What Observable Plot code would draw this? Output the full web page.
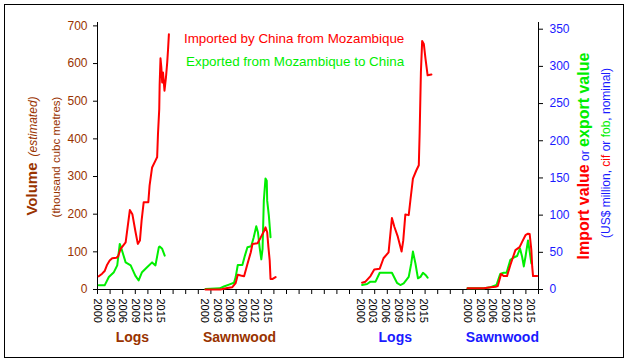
<!DOCTYPE html>
<html>
<head>
<meta charset="utf-8">
<script src="https://cdn.jsdelivr.net/npm/d3@7"></script>
<script src="https://cdn.jsdelivr.net/npm/@observablehq/plot@0.6"></script>
<style>
html, body { margin: 0; padding: 0; background: #fff; }
#chart { position: relative; width: 628px; height: 362px; }
</style>
</head>
<body>
<div id="chart"></div>
<script>
// ---------- data ----------
const yearTicks = [2000, 2003, 2006, 2009, 2012, 2015];
const volumeTicks = [0, 100, 200, 300, 400, 500, 600, 700];
const valueTicks = [0, 50, 100, 150, 200, 250, 300, 350];
const panelNames = ["Logs", "Sawnwood", "Logs", "Sawnwood"];

// Volume, thousand cubic metres [year, value]
const logsVolumeImported = [[2000.3,35],[2001.1,42],[2001.7,49],[2002.3,66],[2002.9,77],[2003.5,83],[2004.5,84],[2004.9,88],[2005.5,108],[2006.7,125],[2007.7,211],[2008.3,200],[2009.0,156],[2009.6,121],[2010.1,130],[2010.5,183],[2011.0,232],[2012.1,232],[2012.4,276],[2013.0,324],[2014.0,347],[2014.2,351],[2014.4,413],[2014.7,479],[2014.8,545],[2015.0,614],[2015.2,590],[2015.4,550],[2015.6,576],[2015.95,528],[2016.3,563],[2016.6,603],[2016.8,638],[2017.0,678]];
const logsVolumeExported = [[2000.3,11],[2001.7,11],[2002.7,33],[2003.9,46],[2004.7,64],[2005.3,121],[2005.6,112],[2006.7,72],[2007.9,64],[2009.0,37],[2009.8,24],[2010.6,46],[2011.8,59],[2013.0,72],[2013.8,64],[2014.6,112],[2014.8,114],[2015.4,108],[2016.0,90]];
const sawnwoodVolumeImported = [[2000.2,0],[2003.8,0],[2005.4,4],[2006.6,6],[2007.4,17],[2007.9,39],[2008.6,37],[2009.4,35],[2010.2,68],[2011.0,99],[2011.4,121],[2012.6,123],[2013.3,137],[2014.1,154],[2014.5,165],[2014.9,152],[2015.2,112],[2015.5,77],[2015.7,28],[2016.2,28],[2016.9,33]];
const sawnwoodVolumeExported = [[2000.2,1],[2003.6,3],[2004.6,8],[2005.8,13],[2007.0,18],[2007.4,33],[2007.9,65],[2009.0,65],[2009.6,90],[2010.2,112],[2011.1,115],[2011.7,139],[2012.3,168],[2012.7,152],[2013.1,112],[2013.5,80],[2013.8,108],[2014.1,236],[2014.5,295],[2014.8,289],[2014.9,236],[2015.3,196],[2015.7,139]];

// Value, US$ million [year, value]
const logsValueImported = [[2000.4,9],[2001.2,10.5],[2002.4,18],[2003.3,27],[2004.6,28],[2005.5,42],[2006.7,50],[2007.5,96],[2008.1,84],[2008.9,71],[2009.8,51],[2010.2,66],[2010.7,101],[2011.5,100],[2011.9,120],[2012.5,149],[2013.3,160],[2013.9,167],[2014.1,210],[2014.4,292],[2014.7,334],[2015.1,330],[2015.5,310],[2016.0,288],[2016.9,289]];
const logsValueExported = [[2000.4,6],[2001.6,7.4],[2002.4,10.5],[2003.6,10.5],[2004.6,22.5],[2007.5,22.5],[2008.7,9],[2009.5,6],[2010.3,8.3],[2011.5,17],[2012.1,35],[2012.5,51],[2013.1,35],[2013.7,15],[2014.3,17],[2014.9,22.5],[2015.5,19.5],[2016.0,16]];
const sawnwoodValueImported = [[2000.0,1.6],[2003.9,1.6],[2005.5,3],[2006.7,3.8],[2007.2,4.7],[2008.0,21],[2008.6,18],[2009.4,18],[2010.2,33],[2011.4,53],[2012.4,57],[2013.0,64],[2013.8,73],[2014.4,75],[2014.8,74.5],[2015.2,53],[2015.4,31],[2015.6,18],[2016.6,18]];
const sawnwoodValueExported = [[2000.0,1.6],[2003.9,1.7],[2005.5,3],[2006.9,6],[2007.8,21],[2008.6,22.5],[2009.3,22.5],[2010.2,40],[2011.0,43],[2011.8,45],[2012.5,55],[2013.0,44],[2013.4,31],[2013.8,44],[2014.4,66],[2014.8,51],[2015.2,35]];

// ---------- layout ----------
const panelStart = [0, 25.5, 62.6, 88.1];   // axis position of year 2000 in each panel
const xMax = 105;
const volumeMax = 709, valueMax = 359;
const valueToAxis = volumeMax / valueMax;  // right axis -> shared y scale
const brown = "#993300", blue = "#1a1aff", red = "#ff0000", green = "#00ee00";
const font = "'Liberation Sans', Arial, sans-serif";

const seriesDefs = [
  {panel: 0, kind: "imp", pts: logsVolumeImported, k: 1},
  {panel: 0, kind: "exp", pts: logsVolumeExported, k: 1},
  {panel: 1, kind: "imp", pts: sawnwoodVolumeImported, k: 1},
  {panel: 1, kind: "exp", pts: sawnwoodVolumeExported, k: 1},
  {panel: 2, kind: "imp", pts: logsValueImported, k: valueToAxis},
  {panel: 2, kind: "exp", pts: logsValueExported, k: valueToAxis},
  {panel: 3, kind: "imp", pts: sawnwoodValueImported, k: valueToAxis},
  {panel: 3, kind: "exp", pts: sawnwoodValueExported, k: valueToAxis}
];
const rows = seriesDefs.flatMap((s, j) => s.pts.map(([t, v]) => ({
  id: j, kind: s.kind, x: panelStart[s.panel] + (t - 2000), y: v * s.k
})));

const yearPos = new Map();
panelStart.forEach(p => yearTicks.forEach(yr => yearPos.set(p + (yr - 2000), yr)));
const panelCenter = 8.3;

const chart = Plot.plot({
  width: 628,
  height: 362,
  marginLeft: 97,
  marginRight: 90,
  marginTop: 22,
  marginBottom: 73,
  style: {fontFamily: font, background: "#fff"},
  x: {domain: [0, xMax]},
  y: {domain: [0, volumeMax]},
  marks: [
    Plot.axisY({anchor: "left", ticks: volumeTicks, tickSize: 4, tickPadding: 6, fontSize: 12, fill: brown, stroke: "#000", label: null}),
    Plot.axisY({anchor: "right", ticks: valueTicks.map(v => v * valueToAxis), tickFormat: d => String(Math.round(d / valueToAxis)), tickSize: 4, tickPadding: 7, fontSize: 12, fill: blue, stroke: "#000", label: null}),
    Plot.axisX({ticks: d3.range(0, xMax + 1, 3), tickSize: 5, fill: "none", stroke: "#000", label: null}),
    Plot.axisX({ticks: [...yearPos.keys()], tickFormat: d => String(yearPos.get(d)), tickRotate: 90, tickSize: 0, tickPadding: 9, fontSize: 11, fill: "#000", label: null}),
    Plot.ruleX([0, xMax], {stroke: "#000"}),
    Plot.ruleY([0], {stroke: "#000"}),
    Plot.line(rows.filter(d => d.kind === "exp"), {x: "x", y: "y", z: "id", stroke: green, strokeWidth: 2}),
    Plot.line(rows.filter(d => d.kind === "imp"), {x: "x", y: "y", z: "id", stroke: red, strokeWidth: 2}),
    Plot.text(panelNames.slice(0, 2), {x: (d, i) => panelStart[i] + panelCenter, frameAnchor: "bottom", dy: 52, fill: brown, fontSize: 14, fontWeight: "bold"}),
    Plot.text(panelNames.slice(2), {x: (d, i) => panelStart[i + 2] + panelCenter, frameAnchor: "bottom", dy: 52, fill: blue, fontSize: 14, fontWeight: "bold"})
  ]
});
document.getElementById("chart").appendChild(chart);

const svg = d3.select(chart);
svg.append("rect").attr("x", 4.5).attr("y", 4.5).attr("width", 619).attr("height", 353)
  .attr("fill", "none").attr("stroke", "#000");

// Legend
svg.append("text").attr("x", 184).attr("y", 38).attr("dy", "0.35em").attr("fill", red)
  .attr("text-anchor", "start").attr("font-size", 13.4).text("Imported by China from Mozambique");
svg.append("text").attr("x", 186).attr("y", 61).attr("dy", "0.35em").attr("fill", green)
  .attr("text-anchor", "start").attr("font-size", 13.4).text("Exported from Mozambique to China");

// Left titles
const lt = svg.append("text").attr("transform", "translate(33,156) rotate(-90)")
  .attr("text-anchor", "middle").attr("dy", "0.35em").attr("fill", brown);
lt.append("tspan").attr("font-size", 15).attr("font-weight", "bold").text("Volume");
lt.append("tspan").attr("font-size", 12).attr("font-style", "italic").attr("dx", 6).text("(estimated)");
svg.append("text").attr("transform", "translate(56,157) rotate(-90)")
  .attr("text-anchor", "middle").attr("dy", "0.35em").attr("fill", brown)
  .attr("font-size", 11.5).text("(thousand cubc metres)");

// Right titles
const rt = svg.append("text").attr("transform", "translate(585,156) rotate(-90)")
  .attr("text-anchor", "middle").attr("dy", "0.35em");
rt.append("tspan").attr("font-size", 16).attr("font-weight", "bold").attr("fill", red).text("Import value");
rt.append("tspan").attr("font-size", 12).attr("fill", blue).text(" or ");
rt.append("tspan").attr("font-size", 16).attr("font-weight", "bold").attr("fill", green).text("export value");
const rt2 = svg.append("text").attr("transform", "translate(606,153) rotate(-90)")
  .attr("text-anchor", "middle").attr("dy", "0.35em").attr("font-size", 12);
rt2.append("tspan").attr("fill", blue).text("(US$ million, ");
rt2.append("tspan").attr("fill", red).text("cif");
rt2.append("tspan").attr("fill", blue).text(" or ");
rt2.append("tspan").attr("fill", green).text("fob");
rt2.append("tspan").attr("fill", blue).text(", nominal)");
</script>
</body>
</html>
